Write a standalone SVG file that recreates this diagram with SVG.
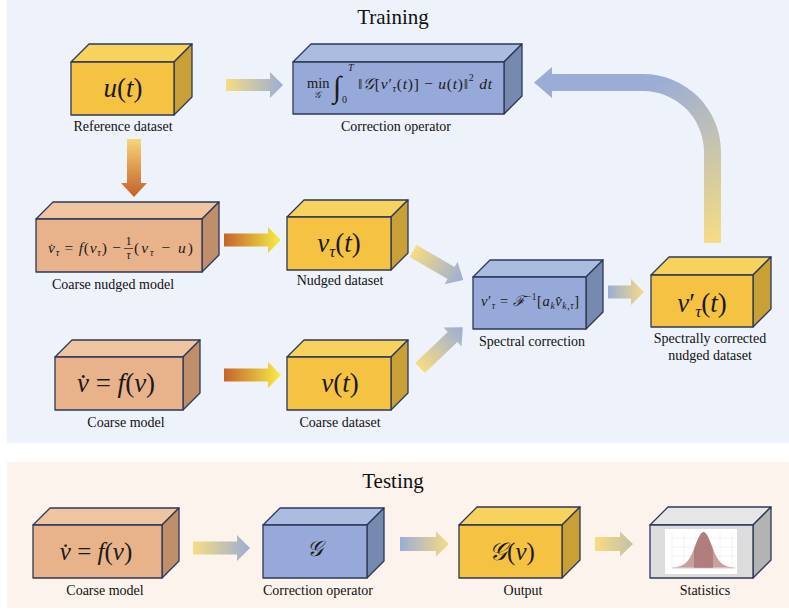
<svg xmlns="http://www.w3.org/2000/svg" width="789" height="610" viewBox="0 0 789 610">
<defs>
<style>
.bx polygon{stroke:#2c3859;stroke-width:1.3;stroke-linejoin:round}
.yf{fill:#f5c242}.yt{fill:#f7d25c}.ys{fill:#c8a035}
.of{fill:#e8b38a}.ot{fill:#efc4a0}.os{fill:#bf8e6b}
.bf{fill:#96a9d8}.bt{fill:#aabde1}.bs{fill:#7689ae}
.gf{fill:#dcdcdc}.gt{fill:#e6e6e6}.gs{fill:#b3b3b3}
.lbl{font-family:"Liberation Serif","Times New Roman",serif;font-size:14px;fill:#111;text-anchor:middle}
.ttl{font-family:"Liberation Serif","Times New Roman",serif;font-size:21px;fill:#111;text-anchor:middle}
.m{font-family:"Liberation Serif","DejaVu Serif",serif;fill:#1a1a1a}
.i{font-style:italic}
</style>
<linearGradient id="gYB"><stop offset="0" stop-color="#f6dc84"/><stop offset="1" stop-color="#9badd6"/></linearGradient>
<linearGradient id="gBY"><stop offset="0" stop-color="#9badd6"/><stop offset="1" stop-color="#f6dc84"/></linearGradient>
<linearGradient id="gOY"><stop offset="0" stop-color="#c4642a"/><stop offset="1" stop-color="#f7ef46"/></linearGradient>
<linearGradient id="gYO"><stop offset="0" stop-color="#f6d67a"/><stop offset="1" stop-color="#c45f26"/></linearGradient>
<linearGradient id="gYG"><stop offset="0" stop-color="#f6dc84"/><stop offset="1" stop-color="#c4c0a9"/></linearGradient>
<linearGradient id="gBig" gradientUnits="userSpaceOnUse" x1="712" y1="243" x2="640" y2="90"><stop offset="0" stop-color="#f6dc84"/><stop offset="1" stop-color="#9badd6"/></linearGradient>
</defs>

<rect x="7" y="0" width="782" height="443" fill="#eef2fa"/>
<rect x="7" y="462" width="782" height="146" fill="#fbf3ec"/>
<text class="ttl" x="393" y="24">Training</text>
<text class="ttl" x="393" y="488">Testing</text>

<g id="connectors">
<polygon transform="translate(226,85)" points="0,-6 44,-6 44,-13 57,0 44,13 44,6 0,6" fill="url(#gYB)"/>
<polygon transform="translate(134,139) rotate(90)" points="0,-7 44,-7 44,-13 58,0 44,13 44,7 0,7" fill="url(#gYO)"/>
<polygon transform="translate(224,240)" points="0,-6.5 44,-6.5 44,-13 57,0 44,13 44,6.5 0,6.5" fill="url(#gOY)"/>
<polygon transform="translate(224,375)" points="0,-6.5 44,-6.5 44,-13 57,0 44,13 44,6.5 0,6.5" fill="url(#gOY)"/>
<polygon transform="translate(413,251) rotate(30)" points="0,-7 44,-7 44,-13 58,0 44,13 44,7 0,7" fill="url(#gYB)"/>
<polygon transform="translate(420,368) rotate(-43.6)" points="0,-7 45,-7 45,-13 59,0 45,13 45,7 0,7" fill="url(#gYB)"/>
<polygon transform="translate(608,292)" points="0,-6.5 23,-6.5 23,-13 36,0 23,13 23,6.5 0,6.5" fill="url(#gBY)"/>
<path d="M534,82.5 L552,67 L552,74 L643,74 A78,78 0 0 1 721,152 L721,243 L704,243 L704,152 A61,61 0 0 0 643,91 L552,91 L552,98 Z" fill="url(#gBig)"/>
<polygon transform="translate(193,548)" points="0,-6.5 44,-6.5 44,-13 57,0 44,13 44,6.5 0,6.5" fill="url(#gYB)"/>
<polygon transform="translate(400,544)" points="0,-7 36,-7 36,-12.5 49,0 36,12.5 36,7 0,7" fill="url(#gBY)"/>
<polygon transform="translate(595,544)" points="0,-7 25,-7 25,-12.5 38,0 25,12.5 25,7 0,7" fill="url(#gYG)"/>
</g>

<g id="reference" class="bx">
<polygon class="yt" points="71,62 89,44 192,44 174,62"/>
<polygon class="ys" points="174,62 192,44 192,97 174,115"/>
<polygon class="yf" points="71,62 174,62 174,115 71,115"/>
<text class="m" x="123" y="97" font-size="27" text-anchor="middle"><tspan class="i">u</tspan>(<tspan class="i">t</tspan>)</text>
<text class="lbl" x="123" y="131">Reference dataset</text>
</g>

<g id="correction" class="bx">
<polygon class="bt" points="293,62 311,44 522,44 504,62"/>
<polygon class="bs" points="504,62 522,44 522,96 504,114"/>
<polygon class="bf" points="293,62 504,62 504,114 293,114"/>
<text class="m" x="307" y="88" font-size="14.5">min</text>
<text class="m i" x="317" y="98" font-size="9.5" text-anchor="middle">𝒢</text>
<text class="m i" x="333" y="97" font-size="30">∫</text>
<text class="m i" x="348" y="71" font-size="10">T</text>
<text class="m" x="342" y="103" font-size="10">0</text>
<text class="m" x="358" y="89" font-size="15.5" textLength="134" lengthAdjust="spacing">‖<tspan class="i">𝒢</tspan>[<tspan class="i">v</tspan>′<tspan class="i" font-size="10" dy="3">τ</tspan><tspan dy="-3">(</tspan><tspan class="i">t</tspan>)] − <tspan class="i">u</tspan>(<tspan class="i">t</tspan>)‖<tspan font-size="10" dy="-8">2</tspan><tspan class="i" dy="8"> dt</tspan></text>
<text class="lbl" x="396" y="131">Correction operator</text>
</g>

<g id="nudged-model" class="bx">
<polygon class="ot" points="36,219 53,202 219,202 202,219"/>
<polygon class="os" points="202,219 219,202 219,255 202,272"/>
<polygon class="of" points="36,219 202,219 202,272 36,272"/>
<text class="m" x="48" y="253" font-size="15.5" textLength="73" lengthAdjust="spacing"><tspan class="i">v̇</tspan><tspan class="i" font-size="10" dy="3">τ</tspan><tspan dy="-3"> = </tspan><tspan class="i">f</tspan>(<tspan class="i">v</tspan><tspan class="i" font-size="10" dy="3">τ</tspan><tspan dy="-3">) −</tspan></text>
<text class="m" x="128.5" y="245" font-size="12.5" text-anchor="middle">1</text>
<line x1="124" y1="248.5" x2="133" y2="248.5" stroke="#1a1a1a" stroke-width="0.7"/>
<text class="m i" x="128.5" y="259" font-size="11.5" text-anchor="middle">τ</text>
<text class="m" x="134" y="253" font-size="15.5" textLength="59" lengthAdjust="spacing">(<tspan class="i">v</tspan><tspan class="i" font-size="10" dy="3">τ</tspan><tspan dy="-3"> − </tspan><tspan class="i">u</tspan>)</text>
<text class="lbl" x="113" y="289">Coarse nudged model</text>
</g>

<g id="nudged-dataset" class="bx">
<polygon class="yt" points="287,217 304,200 408,200 391,217"/>
<polygon class="ys" points="391,217 408,200 408,253 391,270"/>
<polygon class="yf" points="287,217 391,217 391,270 287,270"/>
<text class="m" x="339" y="252" font-size="27" text-anchor="middle"><tspan class="i">v</tspan><tspan class="i" font-size="17" dy="5">τ</tspan><tspan dy="-5">(</tspan><tspan class="i">t</tspan>)</text>
<text class="lbl" x="340" y="285">Nudged dataset</text>
</g>

<g id="coarse-model" class="bx">
<polygon class="ot" points="55,357 72,340 200,340 183,357"/>
<polygon class="os" points="183,357 200,340 200,393 183,410"/>
<polygon class="of" points="55,357 183,357 183,410 55,410"/>
<text class="m" x="116" y="392" font-size="27" text-anchor="middle"><tspan class="i">v̇</tspan> = <tspan class="i">f</tspan>(<tspan class="i">v</tspan>)</text>
<text class="lbl" x="126" y="427">Coarse model</text>
</g>

<g id="coarse-dataset" class="bx">
<polygon class="yt" points="287,357 304,340 408,340 391,357"/>
<polygon class="ys" points="391,357 408,340 408,393 391,410"/>
<polygon class="yf" points="287,357 391,357 391,410 287,410"/>
<text class="m" x="340" y="392" font-size="27" text-anchor="middle"><tspan class="i">v</tspan>(<tspan class="i">t</tspan>)</text>
<text class="lbl" x="340" y="427">Coarse dataset</text>
</g>

<g id="spectral-correction" class="bx">
<polygon class="bt" points="473,277 490,260 603,260 586,277"/>
<polygon class="bs" points="586,277 603,260 603,312 586,329"/>
<polygon class="bf" points="473,277 586,277 586,329 473,329"/>
<text class="m" x="481" y="306" font-size="14.5" textLength="98" lengthAdjust="spacing"><tspan class="i">v</tspan>′<tspan class="i" font-size="9.5" dy="3">τ</tspan><tspan dy="-3"> = </tspan><tspan class="i">ℱ</tspan><tspan font-size="9.5" dy="-6">−1</tspan><tspan dy="6">[</tspan><tspan class="i">a</tspan><tspan class="i" font-size="9.5" dy="3">k</tspan><tspan class="i" dy="-3">v̂</tspan><tspan class="i" font-size="9.5" dy="3">k,τ</tspan><tspan dy="-3">]</tspan></text>
<text class="lbl" x="532" y="346">Spectral correction</text>
</g>

<g id="spectral-dataset" class="bx">
<polygon class="yt" points="651,275 669,257 771,257 753,275"/>
<polygon class="ys" points="753,275 771,257 771,309 753,327"/>
<polygon class="yf" points="651,275 753,275 753,327 651,327"/>
<text class="m" x="702" y="312" font-size="27" text-anchor="middle"><tspan class="i">v</tspan>′<tspan class="i" font-size="17" dy="5">τ</tspan><tspan dy="-5">(</tspan><tspan class="i">t</tspan>)</text>
<text class="lbl" x="710" y="343">Spectrally corrected</text>
<text class="lbl" x="710" y="360">nudged dataset</text>
</g>

<g id="test-coarse-model" class="bx">
<polygon class="ot" points="33,525 50,508 179,508 162,525"/>
<polygon class="os" points="162,525 179,508 179,561 162,578"/>
<polygon class="of" points="33,525 162,525 162,578 33,578"/>
<text class="m" x="96" y="560" font-size="25" text-anchor="middle"><tspan class="i">v̇</tspan> = <tspan class="i">f</tspan>(<tspan class="i">v</tspan>)</text>
<text class="lbl" x="105" y="595">Coarse model</text>
</g>

<g id="test-correction" class="bx">
<polygon class="bt" points="263,525 280,508 384,508 367,525"/>
<polygon class="bs" points="367,525 384,508 384,561 367,578"/>
<polygon class="bf" points="263,525 367,525 367,578 263,578"/>
<text class="m i" x="315" y="556" font-size="22" text-anchor="middle">𝒢</text>
<text class="lbl" x="318" y="595">Correction operator</text>
</g>

<g id="test-output" class="bx">
<polygon class="yt" points="459,525 477,507 580,507 562,525"/>
<polygon class="ys" points="562,525 580,507 580,560 562,578"/>
<polygon class="yf" points="459,525 562,525 562,578 459,578"/>
<text class="m" x="512" y="560" font-size="25" text-anchor="middle"><tspan class="i">𝒢</tspan>(<tspan class="i">v</tspan>)</text>
<text class="lbl" x="523" y="595">Output</text>
</g>

<g id="test-statistics" class="bx">
<polygon class="gt" points="650,525 668,507 771,507 753,525"/>
<polygon class="gs" points="753,525 771,507 771,560 753,578"/>
<polygon class="gf" points="650,525 753,525 753,578 650,578"/>
<rect x="665" y="529" width="72" height="45" fill="#ffffff"/>
<g stroke="#e4e4e4" stroke-width="0.5">
<line x1="672" y1="532" x2="672" y2="568"/><line x1="684" y1="532" x2="684" y2="568"/><line x1="696" y1="532" x2="696" y2="568"/><line x1="708" y1="532" x2="708" y2="568"/><line x1="720" y1="532" x2="720" y2="568"/><line x1="732" y1="532" x2="732" y2="568"/>
<line x1="672" y1="538" x2="735" y2="538"/><line x1="672" y1="547" x2="735" y2="547"/><line x1="672" y1="556" x2="735" y2="556"/>
</g>
<line x1="672" y1="568" x2="735" y2="568" stroke="#999" stroke-width="0.5"/>
<path d="M672,567.5 C686,567 690,560 695,546 C699,536 701,532 703.5,532 C706,532 708,536 712,546 C717,560 721,567 735,567.5 Z" fill="#b68080" opacity="0.75"/>
<path d="M694,568 L694,550 C698,538 701,532 703.5,532 C706,532 709,538 713,550 L713,568 Z" fill="#9a5c5c" opacity="0.5"/>
<text class="lbl" x="705" y="595">Statistics</text>
</g>
</svg>
